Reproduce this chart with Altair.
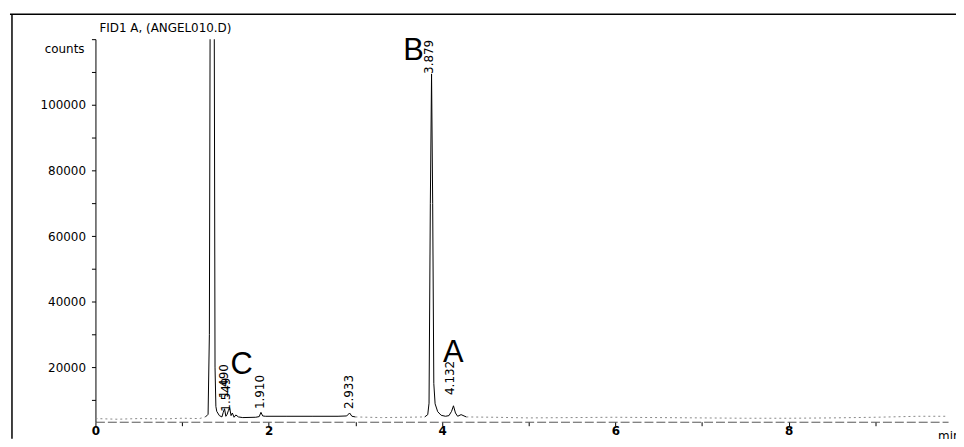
import altair as alt
import pandas as pd

# ---- chromatogram trace (minutes, counts) ----
pre_t = [0.0, 0.25, 0.5, 0.8, 1.0, 1.2, 1.27]
pre_c = [4300, 4100, 4300, 4200, 4400, 4300, 4800]

main1_t = [1.27, 1.30, 1.315, 1.33, 1.365, 1.38, 1.39, 1.40, 1.43, 1.46, 1.475, 1.49,
           1.505, 1.52, 1.535, 1.549, 1.565, 1.58, 1.60, 1.62, 1.65, 1.70, 1.85, 1.89,
           1.91, 1.93, 1.96, 2.2, 2.5, 2.8, 2.90, 2.933, 2.96, 3.0]
main1_c = [4800, 5600, 30000, 200000, 200000, 20000, 8000, 6500, 5200, 4800, 6200, 7300,
           5000, 5600, 6800, 7600, 5200, 6000, 4700, 5400, 4800, 4600, 4700, 4900,
           6200, 5100, 5000, 5000, 5000, 5000, 5100, 6000, 5000, 4800]

mid_t = [3.0, 3.3, 3.6, 3.8]
mid_c = [4800, 4600, 4700, 4800]

main2_t = [3.80, 3.835, 3.85, 3.865, 3.879, 3.892, 3.905, 3.92, 3.95, 3.99, 4.04, 4.08,
           4.11, 4.132, 4.155, 4.18, 4.22, 4.28]
main2_c = [4800, 5500, 9000, 70000, 109500, 70000, 15000, 8800, 6400, 5300, 5000, 5200,
           6500, 8200, 6000, 5000, 5500, 4800]

post_t = [4.28, 4.6, 5.0, 5.5, 6.0, 6.5, 7.0, 7.5, 8.0, 8.5, 9.0, 9.5, 9.84]
post_c = [4800, 4700, 4500, 4600, 4700, 4600, 4500, 4400, 4400, 4500, 4700, 5000, 5000]

# ---- peak retention-time labels ----
peak_text = ["1.490", "1.549", "1.910", "2.933", "3.879", "4.132"]
peak_t = [1.48, 1.505, 1.905, 2.925, 3.855, 4.094]
peak_c = [10500, 6400, 7200, 7200, 109500, 11500]

# ---- compound letters ----
letter_text = ["A", "B", "C"]
letter_t = [4.13, 3.67, 1.686]
letter_c = [24200, 116400, 20600]

# ---- axes ----
x_ticks = [0, 1, 2, 3, 4, 5, 6, 7, 8, 9]
y_ticks = [10000, 20000, 30000, 40000, 50000, 60000, 70000, 80000, 90000, 100000, 110000, 120000]

segs = []
for name, style, ts, cs in [("pre", "faint", pre_t, pre_c), ("m1", "solid", main1_t, main1_c),
                            ("mid", "faint", mid_t, mid_c), ("m2", "solid", main2_t, main2_c),
                            ("post", "faint", post_t, post_c)]:
    for i, (t, c) in enumerate(zip(ts, cs)):
        segs.append({"seg": name, "style": style, "i": i, "t": t, "c": c})
df = pd.DataFrame(segs)

xs = alt.Scale(domain=[0, 9.84], nice=False, zero=False)
ys = alt.Scale(domain=[3330, 120100], nice=False, zero=False)

x_axis = alt.Axis(values=x_ticks, labelExpr="datum.value % 2 == 0 ? format(datum.value, 'd') : ''",
                  title=None, grid=False, tickSize=4, tickColor="black", domainColor="#555",
                  domainDash=[9, 3], labelFont="DejaVu Sans", labelFontSize=12,
                  labelFontWeight="bold", labelColor="black", labelPadding=0,
                  labelOverlap=False, labelFlush=False)
y_axis = alt.Axis(values=y_ticks,
                  labelExpr="(datum.value % 20000 == 0 && datum.value < 110000) ? format(datum.value, 'd') : ''",
                  title=None, grid=False, tickSize=4, tickColor="black", domainColor="black",
                  labelFont="DejaVu Sans", labelFontSize=12, labelColor="black",
                  labelPadding=6, labelOverlap=False, labelFlush=False)

faint = alt.Chart(df).transform_filter(alt.datum.style == "faint").mark_line(
    color="#888888", strokeWidth=1, strokeDash=[2, 3], clip=True).encode(
    x=alt.X("t:Q", scale=xs, axis=x_axis),
    y=alt.Y("c:Q", scale=ys, axis=y_axis),
    detail="seg:N", order="i:Q")

solid = alt.Chart(df).transform_filter(alt.datum.style == "solid").mark_line(
    color="black", strokeWidth=1, clip=True).encode(
    x=alt.X("t:Q", scale=xs, axis=x_axis),
    y=alt.Y("c:Q", scale=ys, axis=y_axis),
    detail="seg:N", order="i:Q")

peaks = alt.Chart(pd.DataFrame({"txt": peak_text, "t": peak_t, "c": peak_c})).mark_text(
    angle=270, align="left", baseline="middle", font="DejaVu Sans", fontSize=12,
    color="black").encode(x=alt.X("t:Q", scale=xs, axis=x_axis),
                          y=alt.Y("c:Q", scale=ys, axis=y_axis), text="txt:N")

letters = alt.Chart(pd.DataFrame({"txt": letter_text, "t": letter_t, "c": letter_c})).mark_text(
    align="center", baseline="middle", font="Liberation Sans", fontSize=31,
    color="black").encode(x=alt.X("t:Q", scale=xs, axis=x_axis),
                          y=alt.Y("c:Q", scale=ys, axis=y_axis), text="txt:N")

one = pd.DataFrame({"a": [0]})
title = alt.Chart(one).mark_text(align="left", baseline="middle", font="DejaVu Sans",
                                 fontSize=12, color="black", text="FID1 A,  (ANGEL010.D)").encode(
    x=alt.value(4), y=alt.value(-11))
counts = alt.Chart(one).mark_text(align="right", baseline="middle", font="DejaVu Sans",
                                  fontSize=12, color="black", text="counts").encode(
    x=alt.value(-11), y=alt.value(10))
minlab = alt.Chart(one).mark_text(align="left", baseline="middle", font="DejaVu Sans",
                                  fontSize=12, color="black", text="min").encode(
    x=alt.value(848), y=alt.value(399))
frame_top = alt.Chart(one).mark_rule(color="black", strokeWidth=1.5).encode(
    x=alt.value(-86), x2=alt.value(870), y=alt.value(-25))
frame_left = alt.Chart(one).mark_rule(color="black", strokeWidth=1.5).encode(
    x=alt.value(-84), y=alt.value(-25), y2=alt.value(402))

chart = alt.layer(faint, solid, peaks, letters, title, counts, minlab, frame_top, frame_left).properties(
    width=858, height=385,
    padding={"left": 88, "top": 30, "right": 8, "bottom": 16},
    autosize=alt.AutoSizeParams(type="none"),
    background="white",
).configure_view(strokeWidth=0)

chart.save("out.html", embed_options={"renderer": "svg", "actions": False})
